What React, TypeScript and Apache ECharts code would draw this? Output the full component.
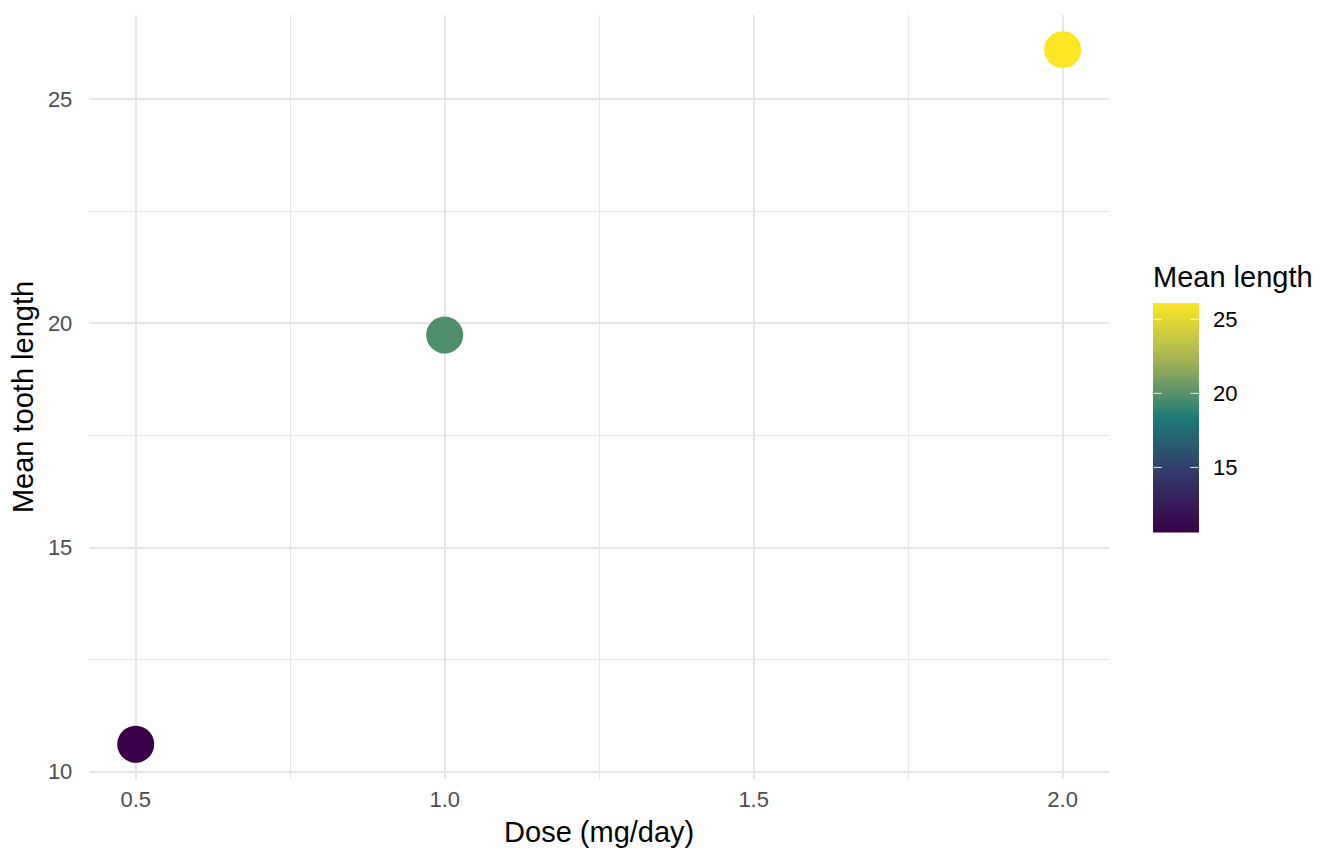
import React, { useEffect, useRef } from "react";
import * as echarts from "echarts";

const doses = [0.5, 1.0, 2.0];
const meanLength = [10.605, 19.735, 26.1];
const xTicks = [0.5, 1.0, 1.5, 2.0];
const xMinor = [0.75, 1.25, 1.75];
const yTicks = [10, 15, 20, 25];
const yMinor = [12.5, 17.5, 22.5];
const legendTicks = [15, 20, 25];
const colorStops = ["#3A0047", "#33386A", "#1E7A78", "#A4B256", "#FDE725"];

const FONT = "'Liberation Sans', Arial, Helvetica, sans-serif";

export default function App() {
  const ref = useRef<HTMLDivElement>(null);
  useEffect(() => {
    if (!ref.current) return;
    const chart = echarts.init(ref.current, undefined, { renderer: "svg" });

    const xr = Math.max(...doses) - Math.min(...doses);
    const xMin = Math.min(...doses) - 0.05 * xr;
    const xMax = Math.max(...doses) + 0.05 * xr;
    const vMin = Math.min(...meanLength);
    const vMax = Math.max(...meanLength);
    const yr = vMax - vMin;
    const yMin = vMin - 0.05 * yr;
    const yMax = vMax + 0.05 * yr;

    // colour bar geometry
    const barX = 1153;
    const barW = 46;
    const barTop = 303;
    const barBottom = 532.5;
    const pxPer = (barBottom - barTop) / (vMax - vMin);
    const tickLen = 9;

    const gradient = new echarts.graphic.LinearGradient(
      0, 1, 0, 0,
      colorStops.map((c, i) => ({ offset: i / (colorStops.length - 1), color: c }))
    );

    const legendGraphics: any[] = [
      {
        type: "text",
        x: barX,
        y: 277,
        style: {
          text: "Mean length",
          font: `29px ${FONT}`,
          fill: "#000000",
          align: "left",
          verticalAlign: "middle",
        },
      },
      {
        type: "rect",
        shape: { x: barX, y: barTop, width: barW, height: barBottom - barTop },
        style: { fill: gradient },
      },
    ];
    legendTicks.forEach((v) => {
      const y = barBottom - (v - vMin) * pxPer;
      legendGraphics.push(
        {
          type: "line",
          shape: { x1: barX, y1: y, x2: barX + tickLen, y2: y },
          style: { stroke: "rgba(255,255,255,0.85)", lineWidth: 1 },
        },
        {
          type: "line",
          shape: { x1: barX + barW - tickLen, y1: y, x2: barX + barW, y2: y },
          style: { stroke: "rgba(255,255,255,0.85)", lineWidth: 1 },
        },
        {
          type: "text",
          x: barX + barW + 14,
          y: y,
          style: {
            text: String(v),
            font: `22px ${FONT}`,
            fill: "#000000",
            align: "left",
            verticalAlign: "middle",
          },
        }
      );
    });

    const gridLine = (w: number) => ({ color: "#E6E6E6", width: w, type: "solid" as const, opacity: 1 });

    chart.setOption({
      animation: false,
      backgroundColor: "#FFFFFF",
      grid: { left: 89, right: 235, top: 15, bottom: 85, containLabel: false },
      xAxis: {
        type: "value",
        min: xMin,
        max: xMax,
        name: "Dose (mg/day)",
        nameLocation: "middle",
        nameGap: 38,
        nameTextStyle: { fontSize: 29, color: "#000000", fontFamily: FONT },
        axisLine: { show: false },
        axisTick: { show: false },
        splitLine: { show: false },
        axisLabel: {
          customValues: xTicks,
          formatter: (v: number) => v.toFixed(1),
          fontSize: 22,
          color: "#4D4D4D",
          fontFamily: FONT,
          margin: 9,
        },
      },
      yAxis: {
        type: "value",
        min: yMin,
        max: yMax,
        name: "Mean tooth length",
        nameLocation: "middle",
        nameGap: 44,
        nameTextStyle: { fontSize: 29, color: "#000000", fontFamily: FONT },
        axisLine: { show: false },
        axisTick: { show: false },
        splitLine: { show: false },
        axisLabel: {
          customValues: yTicks,
          formatter: (v: number) => String(v),
          fontSize: 22,
          color: "#4D4D4D",
          fontFamily: FONT,
          margin: 17,
        },
      },
      visualMap: {
        type: "continuous",
        show: false,
        seriesIndex: 1,
        dimension: 1,
        min: vMin,
        max: vMax,
        inRange: { color: colorStops },
      },
      series: [
        {
          type: "line",
          data: [],
          z: 1,
          silent: true,
          markLine: {
            z: 1,
            silent: true,
            symbol: "none",
            label: { show: false },
            emphasis: { disabled: true },
            data: [
              ...xMinor.map((v) => ({ xAxis: v, lineStyle: gridLine(1) })),
              ...yMinor.map((v) => ({ yAxis: v, lineStyle: gridLine(1) })),
              ...xTicks.map((v) => ({ xAxis: v, lineStyle: gridLine(2) })),
              ...yTicks.map((v) => ({ yAxis: v, lineStyle: gridLine(2) })),
            ],
          },
        },
        {
          type: "scatter",
          z: 10,
          zlevel: 1,
          symbol: "circle",
          symbolSize: 37,
          itemStyle: { opacity: 1 },
          data: doses.map((d, i) => [d, meanLength[i]]),
          emphasis: { disabled: true },
        },
      ],
      graphic: legendGraphics,
    });

    return () => chart.dispose();
  }, []);

  return (
    <div
      ref={ref}
      style={{ position: "fixed", left: 0, top: 0, width: 1344, height: 864 }}
    />
  );
}
